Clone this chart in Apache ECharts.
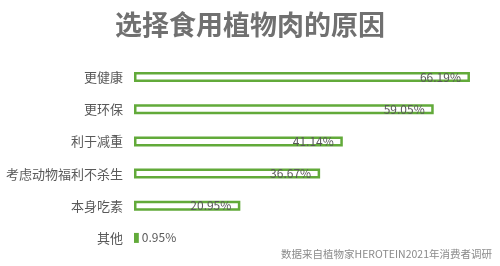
<!DOCTYPE html>
<html><head><meta charset="utf-8">
<script src="https://cdn.jsdelivr.net/npm/echarts@6/dist/echarts.min.js"></script>
<style>html,body{margin:0;padding:0;background:#fff}#c{width:500px;height:266px}</style>
</head><body><div id="c"></div>
<script>
const titleText = '选择食用植物肉的原因';
const sourceText = '数据来自植物家HEROTEIN2021年消费者调研';
const categories = ['更健康', '更环保', '利于减重', '考虑动物福利不杀生', '本身吃素', '其他'];
const values = [66.19, 59.05, 41.14, 36.67, 20.95, 0.95];

const chart = echarts.init(document.getElementById('c'), null, {renderer: 'canvas'});
const font = '"Noto Sans CJK SC", "Noto Sans", sans-serif';
chart.setOption({
  animation: false,
  title: {
    text: titleText, left: 'center', top: 6,
    textStyle: {fontFamily: font, fontSize: 27, fontWeight: 'bold', color: '#707070'}
  },
  graphic: [{
    type: 'text', right: 8, top: 249,
    style: {text: sourceText, font: '10.5px ' + font, fill: '#8a8a8a'}
  }],
  grid: {left: 134, top: 61, width: 355.3, height: 193, containLabel: false},
  xAxis: {type: 'value', min: 0, max: 70, show: false},
  yAxis: {
    type: 'category', data: categories, inverse: true,
    axisLine: {show: false}, axisTick: {show: false},
    axisLabel: {color: '#595959', fontSize: 13, fontFamily: font, margin: 11}
  },
  series: [{
    type: 'bar', data: values.map((v, i) => ({
      value: v,
      label: i === values.length - 1 ? {position: 'right', distance: 3} : {}
    })),
    barWidth: 10,
    itemStyle: {color: '#ffffff', borderColor: '#62aa3a', borderWidth: 2.5},
    label: {
      show: true, position: 'insideRight', distance: 9,
      formatter: p => p.value.toFixed(2) + '%',
      color: '#595959', fontSize: 12, fontFamily: font
    }
  }]
});
</script></body></html>
